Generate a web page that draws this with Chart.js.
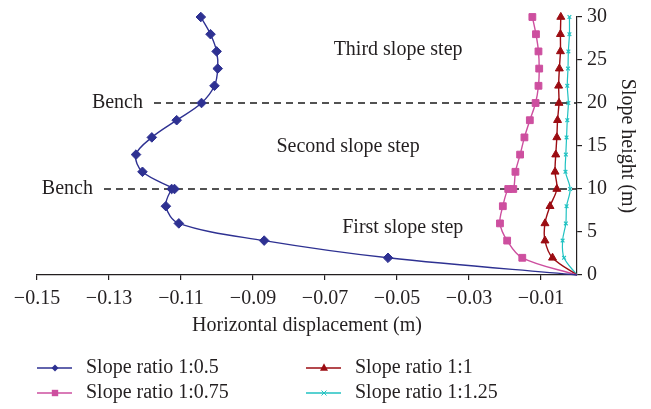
<!DOCTYPE html>
<html>
<head>
<meta charset="utf-8">
<script src="https://cdn.jsdelivr.net/npm/chart.js@4.4.1/dist/chart.umd.min.js"></script>
<style>
    html, body { margin: 0; padding: 0; background: #fff; }
    #wrap { width: 651px; height: 409px; position: relative; }
</style>
</head>
<body>
<div id="wrap"><canvas id="dispChart"></canvas></div>
<script>
// Slope heights (m); the first two series have a double reading at the 10 m bench
const heightsBench = [0, 2, 4, 6, 8, 10, 10, 12, 14, 16, 18, 20, 22, 24, 26, 28, 30];
const heights = [0, 2, 4, 6, 8, 10, 12, 14, 16, 18, 20, 22, 24, 26, 28, 30];

// Horizontal displacement (m) for each slope ratio
const disp050 = [0, -0.0525, -0.0869, -0.1106, -0.1142, -0.1126, -0.1118, -0.1207, -0.1225,
    -0.1181, -0.1112, -0.1043, -0.1007, -0.0998, -0.1001, -0.1018, -0.1045];
const disp075 = [0, -0.0152, -0.0194, -0.0214, -0.0206, -0.0191, -0.0177, -0.0171, -0.0158,
    -0.0146, -0.0131, -0.0115, -0.0107, -0.0105, -0.0107, -0.0114, -0.0124];
const disp100 = [0, -0.0068, -0.0089, -0.0089, -0.0075, -0.0056, -0.0061, -0.0059,
    -0.0056, -0.0054, -0.0050, -0.0051, -0.0049, -0.0046, -0.0046, -0.0045];
const disp125 = [0, -0.0036, -0.0040, -0.0031, -0.0029, -0.0019, -0.0032, -0.0031,
    -0.0029, -0.0027, -0.0024, -0.0027, -0.0025, -0.0024, -0.0021, -0.0021];

const seriesNames = ['Slope ratio 1:0.5', 'Slope ratio 1:0.75', 'Slope ratio 1:1', 'Slope ratio 1:1.25'];

// Bench levels and where their dashed lines start
const benchHeights = [20, 10];
const benchStart = [-0.1175, -0.1314];

// Step labels: text, x, y
const stepLabels = [
    ['Third slope step', -0.0497, 26.2],
    ['Second slope step', -0.0636, 14.9],
    ['First slope step', -0.0484, 5.5]
];

const xTicks = [-0.15, -0.13, -0.11, -0.09, -0.07, -0.05, -0.03, -0.01];

const FONT = '"Liberation Serif", "DejaVu Serif", serif';
const INK = '#231f20';

function toPoints(xs, ys) {
    return ys.map((y, i) => ({ x: xs[i], y: y }));
}

function series(label, xs, ys, color, style, radius, width) {
    return {
        label: label,
        data: toPoints(xs, ys),
        showLine: true,
        clip: false,
        borderColor: color,
        backgroundColor: color,
        borderWidth: width,
        tension: 0.35,
        pointStyle: style,
        pointRadius: ctx => ctx.dataIndex === 0 ? 0 : radius,
        pointBorderWidth: style === 'crossRot' ? 1.2 : 1,
        pointBorderColor: color,
        pointBackgroundColor: color
    };
}

const datasets = [
    series(seriesNames[0], disp050, heightsBench, '#2e3192', 'rectRot', 4.8, 1.4),
    series(seriesNames[1], disp075, heightsBench, '#cd4f9f', 'rect', 4.8, 1.4),
    series(seriesNames[2], disp100, heights, '#9b0c12', 'triangle', 4.6, 1.4),
    series(seriesNames[3], disp125, heights, '#20c2c2', 'crossRot', 2.6, 1.2)
];

benchHeights.forEach((h, i) => {
    datasets.push({
        label: 'bench' + i,
        data: [{ x: benchStart[i], y: h }, { x: 0, y: h }],
        showLine: true,
        borderColor: '#1a1a1a',
        borderWidth: 1.3,
        borderDash: [7, 5],
        pointRadius: 0
    });
});

// Small marker shapes for the key
function drawMarker(ctx, style, x, y, r) {
    ctx.beginPath();
    if (style === 'rectRot') {
        ctx.moveTo(x, y - r); ctx.lineTo(x + r, y); ctx.lineTo(x, y + r); ctx.lineTo(x - r, y);
        ctx.closePath(); ctx.fill();
    } else if (style === 'rect') {
        ctx.rect(x - r, y - r, 2 * r, 2 * r); ctx.fill();
    } else if (style === 'triangle') {
        ctx.moveTo(x, y - r * 1.2); ctx.lineTo(x + r, y + r * 0.7); ctx.lineTo(x - r, y + r * 0.7);
        ctx.closePath(); ctx.fill();
    } else {
        ctx.moveTo(x - r, y - r); ctx.lineTo(x + r, y + r);
        ctx.moveTo(x + r, y - r); ctx.lineTo(x - r, y + r);
        ctx.lineWidth = 1; ctx.stroke();
    }
}

const annotations = {
    id: 'annotations',
    afterDatasetsDraw(chart) {
        const ctx = chart.ctx;
        const xs = chart.scales.x, ys = chart.scales.y;
        ctx.save();
        ctx.fillStyle = INK;
        ctx.font = '20px ' + FONT;
        ctx.textBaseline = 'middle';
        ctx.textAlign = 'center';
        stepLabels.forEach(s => ctx.fillText(s[0], xs.getPixelForValue(s[1]), ys.getPixelForValue(s[2])));
        ctx.textAlign = 'right';
        benchHeights.forEach((h, i) => {
            ctx.fillText('Bench', xs.getPixelForValue(benchStart[i]) - 11, ys.getPixelForValue(h));
        });
        ctx.restore();
    }
};

const seriesKey = {
    id: 'seriesKey',
    afterDraw(chart) {
        const ctx = chart.ctx;
        const cols = [37, 306], rows = [368, 393];
        const sizes = [3.5, 3.2, 4, 2.5];
        ctx.save();
        ctx.font = '20px ' + FONT;
        ctx.textBaseline = 'middle';
        ctx.textAlign = 'left';
        [0, 2, 1, 3].forEach((idx, n) => {
            const ds = chart.data.datasets[idx];
            const x = cols[n % 2], y = rows[Math.floor(n / 2)];
            ctx.strokeStyle = ds.borderColor;
            ctx.fillStyle = ds.borderColor;
            ctx.lineWidth = 1.4;
            ctx.beginPath(); ctx.moveTo(x, y); ctx.lineTo(x + 35, y); ctx.stroke();
            drawMarker(ctx, ds.pointStyle, x + 18, y, sizes[idx]);
            ctx.fillStyle = INK;
            ctx.fillText(ds.label, x + 49, y);
        });
        ctx.restore();
    }
};

new Chart(document.getElementById('dispChart'), {
    type: 'scatter',
    data: { datasets: datasets },
    options: {
        responsive: true,
        maintainAspectRatio: false,
        animation: false,
        layout: { padding: { left: 37, right: 8, top: 15, bottom: 70 } },
        plugins: {
            legend: { display: false },
            tooltip: { enabled: false }
        },
        scales: {
            x: {
                type: 'linear',
                min: -0.15,
                max: 0,
                afterBuildTicks: scale => { scale.ticks = xTicks.map(v => ({ value: v })); },
                afterFit: scale => { scale.height = 64; },
                border: { color: INK, width: 1.2 },
                grid: { drawOnChartArea: false, tickLength: 5, color: INK, lineWidth: 1.2 },
                ticks: {
                    color: INK,
                    font: { family: FONT, size: 20 },
                    padding: 7,
                    maxRotation: 0,
                    autoSkip: false,
                    callback: v => '\u2212' + Math.abs(v).toFixed(2)
                },
                title: {
                    display: true,
                    text: 'Horizontal displacement (m)',
                    color: INK,
                    font: { family: FONT, size: 20 },
                    padding: { top: 2, bottom: 1 }
                }
            },
            y: {
                type: 'linear',
                position: 'right',
                min: 0,
                max: 30,
                afterFit: scale => { scale.width = 66; },
                border: { color: INK, width: 1.2 },
                grid: { drawOnChartArea: false, tickLength: 5, color: INK, lineWidth: 1.2 },
                ticks: {
                    stepSize: 5,
                    color: INK,
                    font: { family: FONT, size: 20 },
                    padding: 5
                },
                title: {
                    display: true,
                    text: 'Slope height (m)',
                    color: INK,
                    font: { family: FONT, size: 20 },
                    padding: { top: 4, bottom: 4 }
                }
            }
        }
    },
    plugins: [annotations, seriesKey]
});
</script>
</body>
</html>
